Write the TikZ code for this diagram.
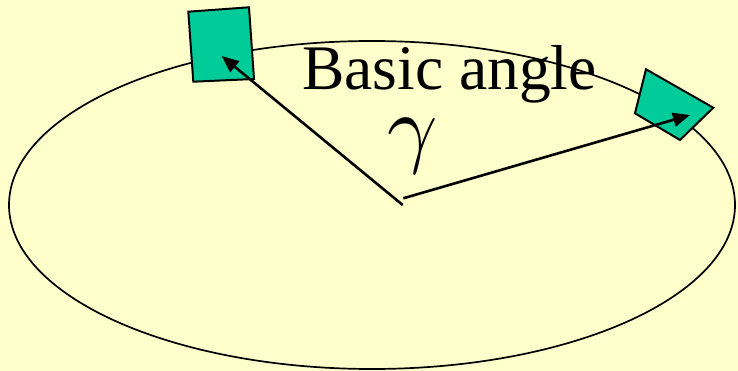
\documentclass[tikz,border=0pt]{standalone}
\usepackage{fontspec}
\setmainfont{Liberation Serif}
\usetikzlibrary{arrows.meta}
\definecolor{bgyellow}{HTML}{FFFFCC}
\definecolor{teal}{HTML}{00CC99}
\tikzset{
  orbit/.style={draw=black, line width=1.7pt},
  panel/.style={draw=black, fill=teal, line width=2pt, line join=miter},
  vec/.style={draw=black, line width=2.6pt, -{Triangle[length=17pt,width=14pt]}},
  lbl/.style={inner sep=0pt, anchor=base, font=\fontsize{63.5}{64}\selectfont}
}
\begin{document}
\begin{tikzpicture}[x=1pt,y=-1pt]
\fill[bgyellow] (0,0) rectangle (738,371);
\useasboundingbox (0,0) rectangle (738,371);
\draw[orbit] (372,205) ellipse [x radius=363, y radius=164];
\coordinate (a1) at (188.3,11.7);
\coordinate (a2) at (249,7.3);
\coordinate (a3) at (254,79);
\coordinate (a4) at (193.3,81.7);
\coordinate (b1) at (646,69.3);
\coordinate (b2) at (713.3,107.7);
\coordinate (b3) at (680,140);
\coordinate (b4) at (635,113.3);
\draw[panel] (a1) -- (a2) -- (a3) -- (a4) -- cycle;
\draw[panel] (b1) -- (b2) -- (b3) -- (b4) -- cycle;
\node[lbl] (title) at (449.5,90) {Basic angle};
\node[inner sep=0pt, anchor=base, scale=8.8] (gamma) at (413,157) {$\gamma$};
\coordinate (o1) at (402.7,205);
\coordinate (o2) at (403.3,198.3);
\coordinate (t1) at (221.7,56);
\coordinate (t2) at (690,115);
\draw[vec] (o1) -- (t1);
\draw[vec] (o2) -- (t2);
\end{tikzpicture}
\end{document}
